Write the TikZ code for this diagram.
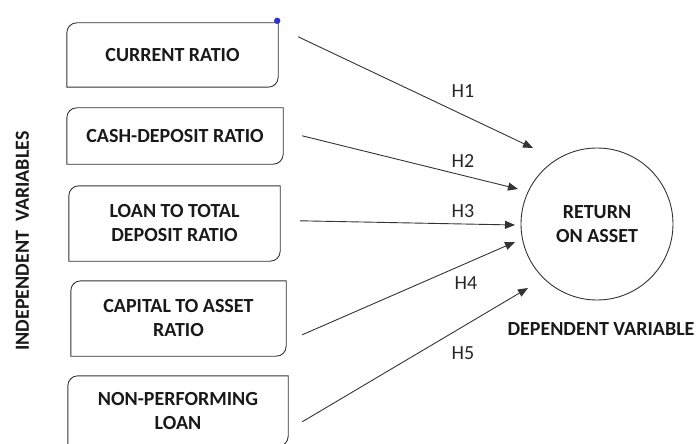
\documentclass[tikz,border=0pt]{standalone}
\usepackage{fontspec}
\setmainfont{Carlito}
\usetikzlibrary{arrows.meta,calc}
\begin{document}
\begin{tikzpicture}[x=1pt,y=-1pt,
  txt/.style={font=\fontsize{20}{24}\selectfont\bfseries, align=center, text=black!90},
  boxnode/.style={txt, inner sep=0pt},
  hlab/.style={font=\fontsize{20}{24}\selectfont, text=black!85},
  arr/.style={draw=black!80, line width=0.9pt, -{Triangle[length=10pt,width=8pt]}},
  outline/.style={draw=black!80, line width=0.9pt}]
\useasboundingbox (0,0) rectangle (697,444);
% boxes: node (text) + drawn outline with rounded top-left and bottom-right corners
\newcommand{\varbox}[6]{% name, x1,y1,x2,y2, text
  \node[boxnode, minimum width={#4-#2}, minimum height={#5-#3}] (#1) at ({(#2+#4)/2},{(#3+#5)/2}) {#6};
  \draw[outline] (#1.south west) -- ([yshift=-10pt]#1.north west) arc[start angle=180,end angle=90,radius=10pt]
     -- (#1.north east) -- ([yshift=10pt]#1.south east) arc[start angle=0,end angle=-90,radius=10pt] -- cycle;}
\varbox{b1}{67}{23}{278}{87}{CURRENT RATIO}
\varbox{b2}{67}{108}{283}{164}{CASH-DEPOSIT RATIO}
\varbox{b3}{69}{186}{280}{261}{LOAN TO TOTAL\\DEPOSIT RATIO}
\varbox{b4}{71}{281}{286}{356}{CAPITAL TO ASSET\\RATIO}
\varbox{b5}{68}{376}{288}{446}{NON-PERFORMING\\LOAN}
\fill[blue!70!black!80] (b1.north east) ++(-1,-2) circle (3.2pt);
% circle
\node[outline, circle, minimum size=152pt, inner sep=0pt, txt] (roa) at (597,224) {RETURN\\ON ASSET};
% labels
\node[txt, rotate=90] (iv) at (22.5,241) {INDEPENDENT\ \ VARIABLES};
\node[txt, anchor=east] (dv) at (698,329) {DEPENDENT VARIABLE};
% connector end points
\coordinate (s1) at ($(b1.north east)+(20,14)$);
\coordinate (s2) at ($(b2.north east)+(19,28)$);
\coordinate (s3) at ($(b3.north east)+(20,35)$);
\coordinate (s4) at ($(b4.north east)+(16,54)$);
\coordinate (s5) at ($(b5.north east)+(14,46)$);
\coordinate (e1) at ($(roa.center)+(-64,-76)$);
\coordinate (e2) at ($(roa.center)+(-79,-35)$);
\coordinate (e3) at ($(roa.center)+(-82,1)$);
\coordinate (e4) at ($(roa.center)+(-82,18)$);
\coordinate (e5) at ($(roa.center)+(-69,64)$);
\draw[arr] (s1) -- (e1);
\draw[arr] (s2) -- (e2);
\draw[arr] (s3) -- (e3);
\draw[arr] (s4) -- (e4);
\draw[arr] (s5) -- (e5);
\node[hlab] (h1) at (463,91) {H1};
\node[hlab] (h2) at (463,161) {H2};
\node[hlab] (h3) at (463,211) {H3};
\node[hlab] (h4) at (466,283) {H4};
\node[hlab] (h5) at (463,353) {H5};
\end{tikzpicture}
\end{document}
